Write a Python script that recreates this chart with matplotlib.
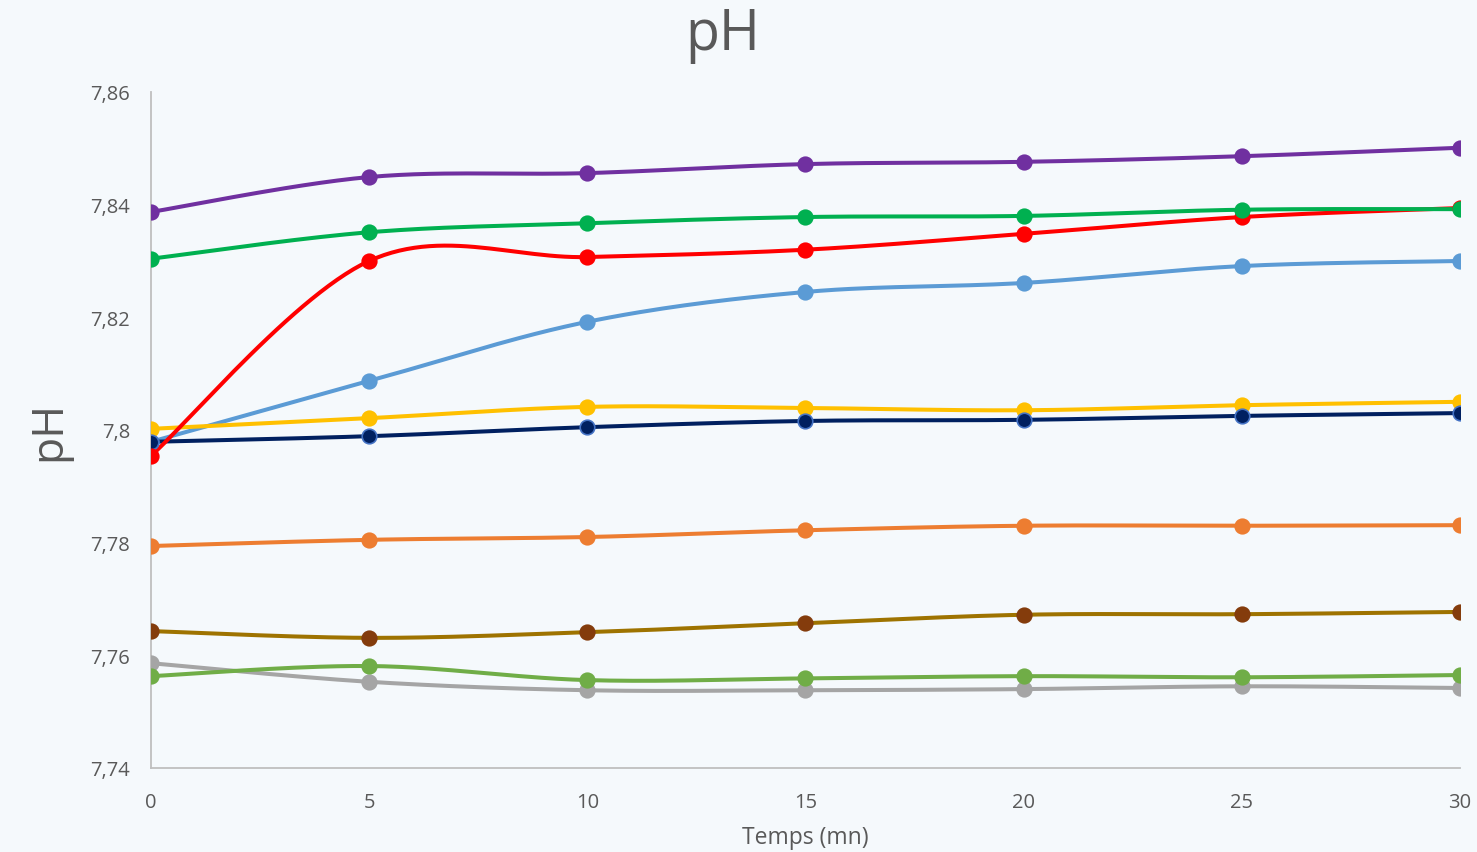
import numpy as np
import matplotlib
matplotlib.use("Agg")
import matplotlib.pyplot as plt

plt.rcParams['font.family'] = ['Open Sans', 'DejaVu Sans']

# ---------------------------------------------------------------------------
# Data
# ---------------------------------------------------------------------------
temps = [0, 5, 10, 15, 20, 25, 30]

ph_purple = [7.8387, 7.8449, 7.8456, 7.8472, 7.8476, 7.8486, 7.8501]
ph_green = [7.8304, 7.8351, 7.8367, 7.8378, 7.8380, 7.8391, 7.8392]
ph_red = [7.7954, 7.8300, 7.8307, 7.8320, 7.8348, 7.8378, 7.8394]
ph_blue = [7.7979, 7.8087, 7.8192, 7.8245, 7.8261, 7.8291, 7.8300]
ph_yellow = [7.8002, 7.8021, 7.8041, 7.8039, 7.8035, 7.8044, 7.8050]
ph_navy = [7.7979, 7.7989, 7.8005, 7.8016, 7.8018, 7.8025, 7.8030]
ph_orange = [7.7794, 7.7805, 7.7810, 7.7822, 7.7830, 7.7830, 7.7831]
ph_brown = [7.7643, 7.7631, 7.7641, 7.7657, 7.7672, 7.7673, 7.7677]
ph_gray = [7.7586, 7.7553, 7.7538, 7.7538, 7.7540, 7.7545, 7.7542]
ph_lgreen = [7.7563, 7.7581, 7.7556, 7.7559, 7.7563, 7.7561, 7.7565]

y_ticks = [7.74, 7.76, 7.78, 7.80, 7.82, 7.84, 7.86]
y_tick_labels = ["7,74", "7,76", "7,78", "7,8", "7,82", "7,84", "7,86"]
x_ticks = [0, 5, 10, 15, 20, 25, 30]

# (values, line colour, marker face, marker edge) in drawing order
series = [
    (ph_gray, "#A5A5A5", "#A5A5A5", "#A5A5A5"),
    (ph_lgreen, "#70AD47", "#70AD47", "#70AD47"),
    (ph_brown, "#9E7300", "#843C0C", "#843C0C"),
    (ph_orange, "#ED7D31", "#ED7D31", "#ED7D31"),
    (ph_blue, "#5B9BD5", "#5B9BD5", "#5B9BD5"),
    (ph_yellow, "#FFC000", "#FFC000", "#FFC000"),
    (ph_navy, "#002060", "#002060", "#4472C4"),
    (ph_purple, "#7030A0", "#7030A0", "#7030A0"),
    (ph_red, "#FF0000", "#FF0000", "#FF0000"),
    (ph_green, "#00B050", "#00B050", "#00B050"),
]


def smooth(x, y, n=30):
    """Excel-like smoothed line: Catmull-Rom bezier through the points."""
    x = np.asarray(x, float)
    y = np.asarray(y, float)
    px = np.concatenate([[x[0]], x, [x[-1]]])
    py = np.concatenate([[y[0]], y, [y[-1]]])
    xs, ys = [], []
    t = np.linspace(0, 1, n)
    for i in range(1, len(px) - 2):
        p0 = np.array([px[i], py[i]])
        p3 = np.array([px[i + 1], py[i + 1]])
        c1 = p0 + (np.array([px[i + 1], py[i + 1]]) - np.array([px[i - 1], py[i - 1]])) / 6
        c2 = p3 - (np.array([px[i + 2], py[i + 2]]) - np.array([px[i], py[i]])) / 6
        b = ((1 - t) ** 3)[:, None] * p0 + (3 * (1 - t) ** 2 * t)[:, None] * c1 \
            + (3 * (1 - t) * t ** 2)[:, None] * c2 + (t ** 3)[:, None] * p3
        xs.extend(b[:, 0])
        ys.extend(b[:, 1])
    return xs, ys


bg = "#F5F9FC"
text_col = "#595959"

fig = plt.figure(figsize=(14.77, 8.53), dpi=100, facecolor=bg)
ax = fig.add_axes([0.1022, 0.0985, 0.8863, 0.7925], facecolor=bg)

for vals, lc, mfc, mec in series:
    sx, sy = smooth(temps, vals)
    ax.plot(sx, sy, color=lc, lw=2.9, solid_capstyle="round", zorder=2)
    ax.plot(temps, vals, ls="none", marker="o", ms=10.5, mfc=mfc, mec=mec,
            mew=1.2, zorder=3)

ax.set_xlim(0, 30)
ax.set_ylim(7.74, 7.86)
ax.set_xticks(x_ticks)
ax.set_xticklabels([str(v) for v in x_ticks])
ax.set_yticks(y_ticks)
ax.set_yticklabels(y_tick_labels)
ax.tick_params(length=0, labelsize=14.5, colors=text_col)
ax.tick_params(axis="x", pad=17)
ax.tick_params(axis="y", pad=15)

for side in ["top", "right"]:
    ax.spines[side].set_visible(False)
for side in ["left", "bottom"]:
    ax.spines[side].set_color("#BFBFBF")
    ax.spines[side].set_linewidth(1.3)

ax.set_xlabel("Temps (mn)", fontsize=16.5, color=text_col, labelpad=10)
ax.set_ylabel("pH", fontsize=32, color=text_col, labelpad=14)

fig.text(723 / 1477, 1 - 36 / 853, "pH", fontsize=40, color=text_col,
         ha="center", va="center")

plt.savefig("out.png", dpi=100, facecolor=bg)
